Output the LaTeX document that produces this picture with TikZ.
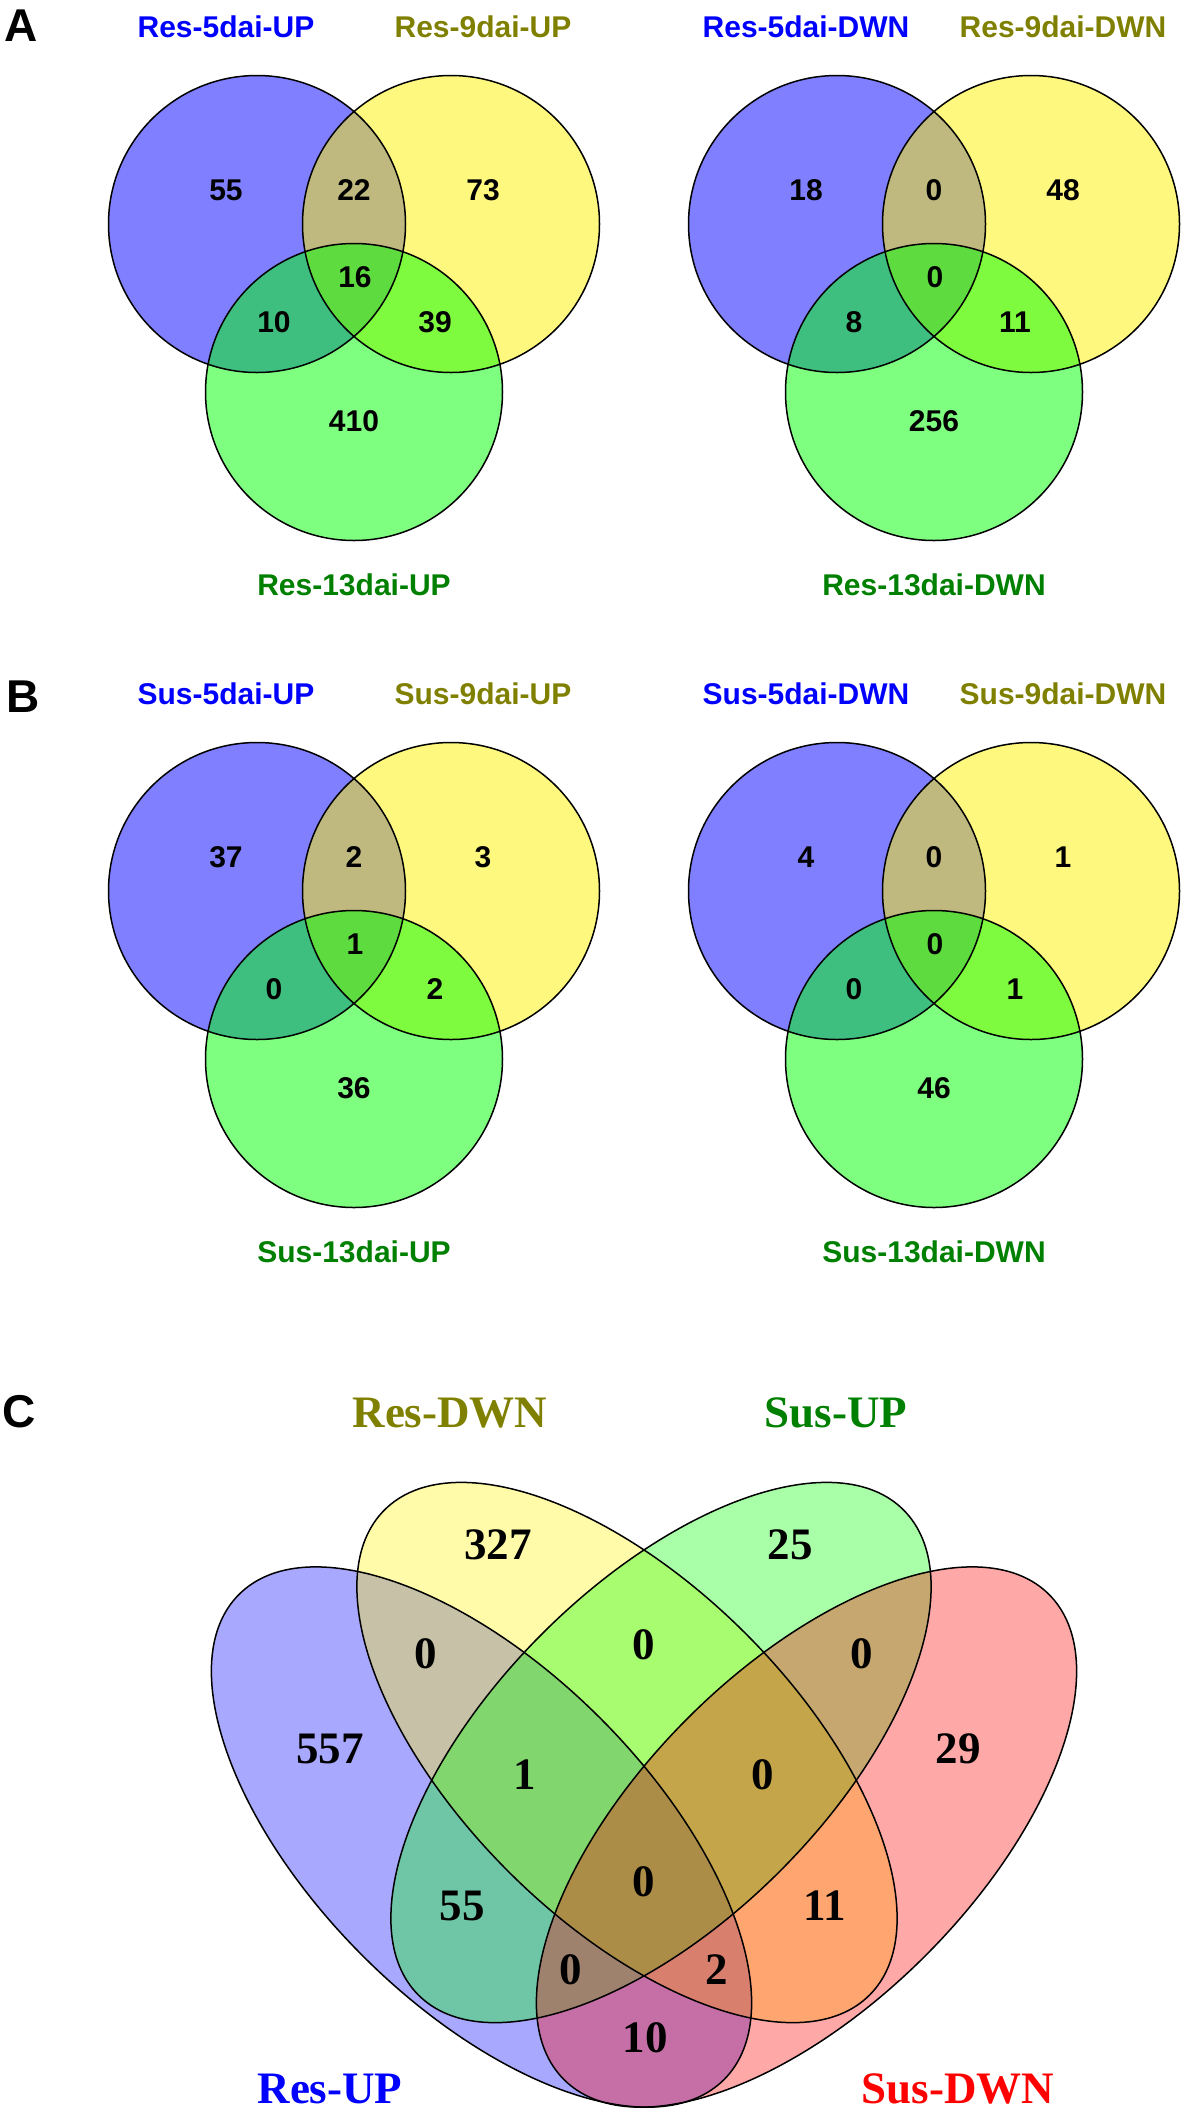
\documentclass[tikz,border=0pt]{standalone}
\usepackage{fontspec}
\setmainfont{Liberation Serif}
\setsansfont{Liberation Sans}

\definecolor{labblue}{RGB}{0,0,255}
\definecolor{labolive}{RGB}{128,128,0}
\definecolor{labgreen}{RGB}{0,128,0}
\definecolor{labred}{RGB}{255,0,0}

\tikzset{
  setlab/.style={inner sep=0pt, font=\sffamily\bfseries\fontsize{30}{36}\selectfont},
  count/.style={inner sep=0pt, font=\sffamily\bfseries\fontsize{30}{36}\selectfont},
  quadlab/.style={inner sep=0pt, font=\rmfamily\bfseries\fontsize{45}{54}\selectfont},
  panel/.style={inner sep=0pt, font=\sffamily\bfseries\fontsize{46}{55}\selectfont},
  outline/.style={draw=black, line width=1.5pt},
  tri/.style={fill=#1, fill opacity=.5},
  quad/.style={fill=#1, fill opacity=.34}
}

% three circles of one panel (A and B)
\newcommand{\tricircles}{%
  \fill[tri=blue]   (257,224) circle (148.5);
  \fill[tri=yellow] (451,224) circle (148.5);
  \fill[tri=green]  (354,392) circle (148.5);
  \draw[outline] (257,224) circle (148.5) (451,224) circle (148.5) (354,392) circle (148.5);
}

\begin{document}
\begin{tikzpicture}[x=1pt, y=-1pt]
  \useasboundingbox (0,0) rectangle (1181,2110);

  % panel A
  \node[panel] (pA) at (21,26) {A};
  \begin{scope}
    \tricircles
    \node[setlab, text=labblue]  (r5up)  at (226,27)  {Res-5dai-UP};
    \node[setlab, text=labolive] (r9up)  at (483,27)  {Res-9dai-UP};
    \node[setlab, text=labgreen] (r13up) at (354,585) {Res-13dai-UP};
    \node[count] (a1) at (226,190.5) {55};
    \node[count] (a2) at (354,190.5) {22};
    \node[count] (a3) at (483,190.5) {73};
    \node[count] (a4) at (355,277)   {16};
    \node[count] (a5) at (274,322)   {10};
    \node[count] (a6) at (435,322)   {39};
    \node[count] (a7) at (354,421.5) {410};
  \end{scope}
  \begin{scope}[shift={(580,0)}]
    \tricircles
    \node[setlab, text=labblue]  (r5dn)  at (226,27)  {Res-5dai-DWN};
    \node[setlab, text=labolive] (r9dn)  at (483,27)  {Res-9dai-DWN};
    \node[setlab, text=labgreen] (r13dn) at (354,585) {Res-13dai-DWN};
    \node[count] (b1) at (226,190.5) {18};
    \node[count] (b2) at (354,190.5) {0};
    \node[count] (b3) at (483,190.5) {48};
    \node[count] (b4) at (355,277)   {0};
    \node[count] (b5) at (274,322)   {8};
    \node[count] (b6) at (435,322)   {11};
    \node[count] (b7) at (354,421.5) {256};
  \end{scope}

  % panel B
  \node[panel] (pB) at (23,697) {B};
  \begin{scope}[shift={(0,667)}]
    \tricircles
    \node[setlab, text=labblue]  (s5up)  at (226,27)  {Sus-5dai-UP};
    \node[setlab, text=labolive] (s9up)  at (483,27)  {Sus-9dai-UP};
    \node[setlab, text=labgreen] (s13up) at (354,585) {Sus-13dai-UP};
    \node[count] (c1) at (226,190.5) {37};
    \node[count] (c2) at (354,190.5) {2};
    \node[count] (c3) at (483,190.5) {3};
    \node[count] (c4) at (355,277)   {1};
    \node[count] (c5) at (274,322)   {0};
    \node[count] (c6) at (435,322)   {2};
    \node[count] (c7) at (354,421.5) {36};
  \end{scope}
  \begin{scope}[shift={(580,667)}]
    \tricircles
    \node[setlab, text=labblue]  (s5dn)  at (226,27)  {Sus-5dai-DWN};
    \node[setlab, text=labolive] (s9dn)  at (483,27)  {Sus-9dai-DWN};
    \node[setlab, text=labgreen] (s13dn) at (354,585) {Sus-13dai-DWN};
    \node[count] (d1) at (226,190.5) {4};
    \node[count] (d2) at (354,190.5) {0};
    \node[count] (d3) at (483,190.5) {1};
    \node[count] (d4) at (355,277)   {0};
    \node[count] (d5) at (274,322)   {0};
    \node[count] (d6) at (435,322)   {1};
    \node[count] (d7) at (354,421.5) {46};
  \end{scope}

  % panel C
  \node[panel] (pC) at (19,1412) {C};
  \fill[quad=blue,   rotate around={-45:(481.5,1837)}] (481.5,1837) ellipse [x radius=343, y radius=168];
  \fill[quad=yellow, rotate around={-45:(627,1752.5)}] (627,1752.5) ellipse [x radius=343, y radius=168];
  \fill[quad=green,  rotate around={45:(661,1752.5)}]  (661,1752.5) ellipse [x radius=343, y radius=168];
  \fill[quad=red,    rotate around={45:(806.5,1837)}]  (806.5,1837) ellipse [x radius=343, y radius=168];
  \draw[outline, rotate around={-45:(481.5,1837)}] (481.5,1837) ellipse [x radius=343, y radius=168];
  \draw[outline, rotate around={-45:(627,1752.5)}] (627,1752.5) ellipse [x radius=343, y radius=168];
  \draw[outline, rotate around={45:(661,1752.5)}]  (661,1752.5) ellipse [x radius=343, y radius=168];
  \draw[outline, rotate around={45:(806.5,1837)}]  (806.5,1837) ellipse [x radius=343, y radius=168];

  \node[quadlab, text=labolive] (resdn) at (450,1413) {Res-DWN};
  \node[quadlab, text=labgreen] (susup) at (836,1413) {Sus-UP};
  \node[quadlab, text=labblue]  (resup) at (330,2089) {Res-UP};
  \node[quadlab, text=labred]   (susdn) at (958,2089) {Sus-DWN};

  \node[quadlab] (q1)  at (498,1545)  {327};
  \node[quadlab] (q2)  at (790,1545)  {25};
  \node[quadlab] (q3)  at (426,1654)  {0};
  \node[quadlab] (q4)  at (644,1645)  {0};
  \node[quadlab] (q5)  at (862,1654)  {0};
  \node[quadlab] (q6)  at (330,1748.5) {557};
  \node[quadlab] (q7)  at (958,1748.5) {29};
  \node[quadlab] (q8)  at (525,1775)  {1};
  \node[quadlab] (q9)  at (763,1775)  {0};
  \node[quadlab] (q10) at (644,1882)  {0};
  \node[quadlab] (q11) at (462,1906)  {55};
  \node[quadlab] (q12) at (825,1906)  {11};
  \node[quadlab] (q13) at (571,1970)  {0};
  \node[quadlab] (q14) at (717,1970)  {2};
  \node[quadlab] (q15) at (645,2038)  {10};
\end{tikzpicture}
\end{document}
